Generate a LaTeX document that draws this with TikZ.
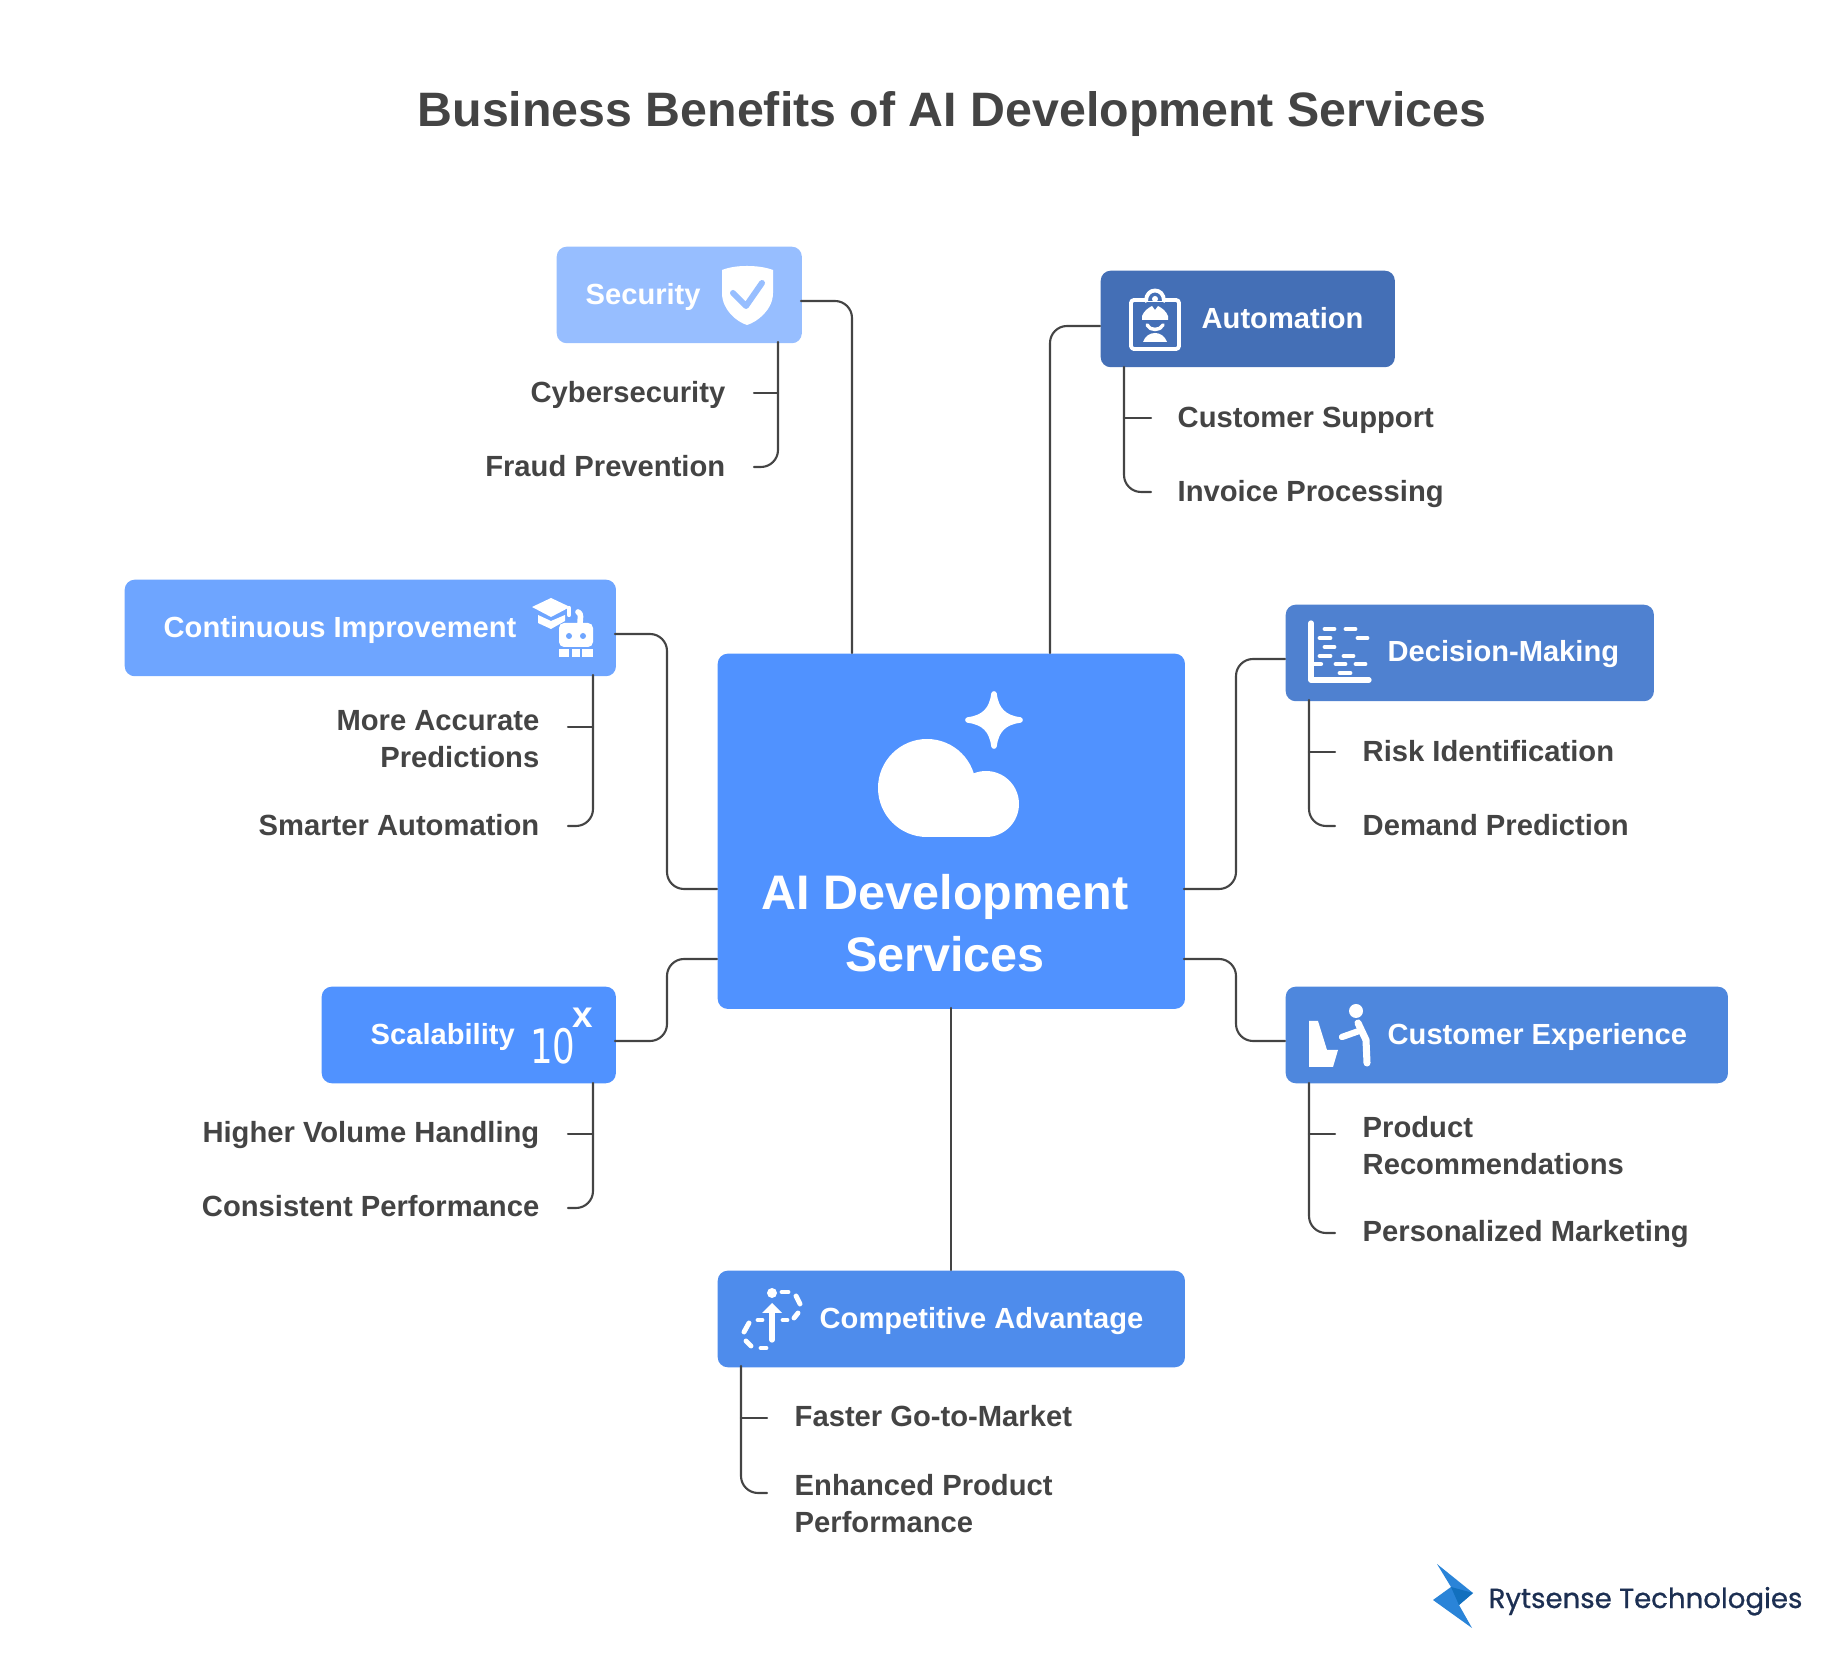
\documentclass[tikz,border=0pt]{standalone}
\usepackage{fontspec}
\usepackage{xcolor}
\setmainfont{Liberation Sans}
\newfontfamily\logofont{Poppins}[FakeBold=0.8]
\newfontfamily\digitfont{DejaVu Sans}
\definecolor{inkgray}{HTML}{444444}
\definecolor{centerblue}{HTML}{5092FF}
\definecolor{securityblue}{HTML}{97BEFF}
\definecolor{automationblue}{HTML}{446FB6}
\definecolor{improveblue}{HTML}{6EA5FF}
\definecolor{decisionblue}{HTML}{4F81D0}
\definecolor{customerblue}{HTML}{4E87DD}
\definecolor{competeblue}{HTML}{4E8CEC}
\definecolor{logoblue}{HTML}{2A84D8}
\definecolor{logodark}{HTML}{1270BE}
\definecolor{logoink}{HTML}{1C2F52}
\tikzset{
	benefitbox/.style={draw=none,rounded corners=0.1cm,minimum height=0.965cm,inner sep=0pt,anchor=north west},
	boxlabel/.style={text=white,inner sep=0pt,anchor=base west,font=\fontsize{8.28}{10.5}\selectfont\bfseries},
	itemlabel/.style={text=inkgray,inner sep=0pt,font=\fontsize{8.3}{10.5}\selectfont\bfseries},
	link/.style={draw=inkgray,line width=0.6pt,rounded corners=0.17cm},
	iconline/.style={draw=white,line width=1.2pt,line cap=round,line join=round},
}
\begin{document}
\begin{tikzpicture}[x=0.01cm,y=-0.01cm,line cap=round,line join=round]
	\useasboundingbox (0,0) rectangle (1848,1680);
	\node (title) [text=inkgray,inner sep=0pt,anchor=base,font=\fontsize{13.74}{17}\selectfont\bfseries] at (952,127) {Business Benefits of AI Development Services};

	\node (central) [benefitbox,fill=centerblue,minimum width=4.67cm,minimum height=3.55cm] at (717,653) {};
	\node (security) [benefitbox,fill=securityblue,minimum width=2.45cm] at (556,246) {};
	\node (automation) [benefitbox,fill=automationblue,minimum width=2.94cm] at (1100,270) {};
	\node (improvement) [benefitbox,fill=improveblue,minimum width=4.91cm] at (124,579) {};
	\node (decision) [benefitbox,fill=decisionblue,minimum width=3.68cm] at (1285,604) {};
	\node (scalability) [benefitbox,fill=centerblue,minimum width=2.94cm] at (321,986) {};
	\node (experience) [benefitbox,fill=customerblue,minimum width=4.42cm] at (1285,986) {};
	\node (advantage) [benefitbox,fill=competeblue,minimum width=4.67cm] at (717,1270) {};

	\node (centraltext) [text=white,inner sep=0pt,align=center,font=\fontsize{13.8}{17.6}\selectfont\bfseries] at (945,923) {AI Development\\Services};
	\node (securitytext) [boxlabel] at (585,305) {Security};
	\node (automationtext) [boxlabel] at (1201,329) {Automation};
	\node (improvementtext) [boxlabel] at (163,638) {Continuous Improvement};
	\node (decisiontext) [boxlabel] at (1387,662) {Decision-Making};
	\node (scalabilitytext) [boxlabel] at (370,1045) {Scalability};
	\node (experiencetext) [boxlabel] at (1387,1045) {Customer Experience};
	\node (advantagetext) [boxlabel] at (819,1329) {Competitive Advantage};

	\node (cyber) [itemlabel,anchor=base east] at (726,403) {Cybersecurity};
	\node (fraud) [itemlabel,anchor=base east] at (726,477) {Fraud Prevention};
	\node (support) [itemlabel,anchor=base west] at (1177,428) {Customer Support};
	\node (invoice) [itemlabel,anchor=base west] at (1177,502) {Invoice Processing};
	\node (accurate) [itemlabel,anchor=east,align=right] at (540,739) {More Accurate\\Predictions};
	\node (smarter) [itemlabel,anchor=base east] at (540,836) {Smarter Automation};
	\node (risk) [itemlabel,anchor=base west] at (1362,762) {Risk Identification};
	\node (demand) [itemlabel,anchor=base west] at (1362,836) {Demand Prediction};
	\node (volume) [itemlabel,anchor=base east] at (540,1143) {Higher Volume Handling};
	\node (consistent) [itemlabel,anchor=base east] at (540,1217) {Consistent Performance};
	\node (product) [itemlabel,anchor=west,align=left] at (1362,1146) {Product\\Recommendations};
	\node (personal) [itemlabel,anchor=base west] at (1362,1242) {Personalized Marketing};
	\node (faster) [itemlabel,anchor=base west] at (794,1427) {Faster Go-to-Market};
	\node (enhanced) [itemlabel,anchor=west,align=left] at (794,1504) {Enhanced Product\\Performance};

	\coordinate (securityout) at (801,301);
	\coordinate (securityin) at (852,653);
	\coordinate (automationout) at (1100,326);
	\coordinate (automationin) at (1050,653);
	\coordinate (improvementout) at (615,634);
	\coordinate (improvementmid) at (667,760);
	\coordinate (improvementin) at (717,889);
	\coordinate (decisionout) at (1285,659);
	\coordinate (decisionmid) at (1236,770);
	\coordinate (decisionin) at (1184,889);
	\coordinate (scalabilityout) at (615,1041);
	\coordinate (scalabilitymid) at (667,1000);
	\coordinate (scalabilityin) at (717,959);
	\coordinate (experienceout) at (1285,1041);
	\coordinate (experiencemid) at (1236,1000);
	\coordinate (experiencein) at (1184,959);
	\coordinate (centralout) at (951,1008);
	\coordinate (advantagein) at (951,1270);

	\draw [link] (securityout) -| (securityin);
	\draw [link] (automationout) -| (automationin);
	\draw [link] (improvementout) -| (improvementmid) |- (improvementin);
	\draw [link] (decisionout) -| (decisionmid) |- (decisionin);
	\draw [link] (scalabilityout) -| (scalabilitymid) |- (scalabilityin);
	\draw [link] (experienceout) -| (experiencemid) |- (experiencein);
	\draw [link] (centralout) -- (advantagein);

	\coordinate (securitydrop) at (778,342);
	\coordinate (cybertick) at (754,393);
	\coordinate (fraudtick) at (754,467);
	\draw [link] (securitydrop) |- (fraudtick);
	\draw [link] (securitydrop |- cybertick) -- (cybertick);
	\coordinate (automationdrop) at (1124,367);
	\coordinate (supporttick) at (1151,418);
	\coordinate (invoicetick) at (1151,492);
	\draw [link] (automationdrop) |- (invoicetick);
	\draw [link] (automationdrop |- supporttick) -- (supporttick);
	\coordinate (improvementdrop) at (593,675);
	\coordinate (accuratetick) at (568,727);
	\coordinate (smartertick) at (568,826);
	\draw [link] (improvementdrop) |- (smartertick);
	\draw [link] (improvementdrop |- accuratetick) -- (accuratetick);
	\coordinate (decisiondrop) at (1309,700);
	\coordinate (risktick) at (1335,752);
	\coordinate (demandtick) at (1335,826);
	\draw [link] (decisiondrop) |- (demandtick);
	\draw [link] (decisiondrop |- risktick) -- (risktick);
	\coordinate (scalabilitydrop) at (593,1083);
	\coordinate (volumetick) at (568,1134);
	\coordinate (consistenttick) at (568,1208);
	\draw [link] (scalabilitydrop) |- (consistenttick);
	\draw [link] (scalabilitydrop |- volumetick) -- (volumetick);
	\coordinate (experiencedrop) at (1309,1083);
	\coordinate (producttick) at (1335,1134);
	\coordinate (personaltick) at (1335,1233);
	\draw [link] (experiencedrop) |- (personaltick);
	\draw [link] (experiencedrop |- producttick) -- (producttick);
	\coordinate (advantagedrop) at (741,1366);
	\coordinate (fastertick) at (767,1418);
	\coordinate (enhancedtick) at (767,1493);
	\draw [link] (advantagedrop) |- (enhancedtick);
	\draw [link] (advantagedrop |- fastertick) -- (fastertick);

	\fill [white] (927,788) circle (49);
	\fill [white] (986,804) circle (33);
	\fill [white] (927,790) rectangle (986,837);
	\draw [iconline,fill=white,line width=1.6pt] (994,694) .. controls (996,710) and (1004,718) .. (1020,720) .. controls (1004,722) and (996,730) .. (994,746) .. controls (992,730) and (984,722) .. (968,720) .. controls (984,718) and (992,710) .. (994,694) -- cycle;

	\fill [white] (722,270) .. controls (730,267) and (738,266) .. (747,266) .. controls (756,266) and (765,267) .. (773,270) -- (773,293) .. controls (773,310) and (757,322) .. (747,325) .. controls (737,322) and (722,310) .. (722,293) -- cycle;
	\draw [securityblue,line width=1.7pt] (733,293) -- (746,306) -- (762,283);

	\draw [iconline,line width=1.1pt,rounded corners=0.03cm] (1131,300) rectangle (1179,349);
	\draw [iconline,line width=1.1pt,fill=automationblue] (1146,301) .. controls (1146,287) and (1164,287) .. (1164,301);
	\fill [white] (1155,299) circle (3);
	\fill [white] (1142,320) -- (1168,320) -- (1168,316) .. controls (1166,311) and (1162,308) .. (1158,306) -- (1155,310) -- (1152,306) .. controls (1148,308) and (1144,311) .. (1142,316) -- cycle;
	\draw [iconline,line width=1pt] (1147,325) .. controls (1150,331) and (1160,331) .. (1163,325);
	\fill [white] (1143,342) .. controls (1145,336) and (1150,333) .. (1155,333) .. controls (1160,333) and (1165,336) .. (1167,342) -- cycle;

	\fill [white] (532,607) -- (551,598) -- (570,607) -- (551,617) -- cycle;
	\fill [white] (538,615) -- (551,621) -- (565,615) -- (565,621) -- (551,629) -- (538,623) -- cycle;
	\draw [iconline] (569,608) -- (569,615);
	\draw [iconline,line width=1.6pt] (578,612) .. controls (582,614) and (580,618) .. (580,624);
	\fill [white,rounded corners=0.05cm] (559,623) rectangle (593,647);
	\fill [improveblue] (569,636) circle (3);
	\fill [improveblue] (583,636) circle (3);
	\fill [white] (559,649) rectangle (569,657);
	\fill [white] (572,649) rectangle (580,657);
	\fill [white] (582,649) rectangle (593,657);

	\draw [iconline,line width=1.5pt] (1311,623) -- (1311,680) -- (1369,680);
	\draw [iconline,line width=1.2pt] (1311,664) -- (1321,664);
	\foreach \xa/\xb/\ya in {1325/1334/629,1346/1355/629,1320/1330/638,1358/1367/638,1325/1334/647,1320/1330/656,1344/1353/656,1336/1345/664,1356/1365/664,1340/1350/673}
		\draw [iconline,line width=1.4pt] (\xa,\ya) -- (\xb,\ya);

	\node (tentext) [text=white,inner sep=0pt,xscale=0.75,anchor=base,font=\fontsize{13.5}{14}\selectfont\digitfont] at (553,1064) {10};
	\node (xtext) [text=white,inner sep=0pt,anchor=base,font=\fontsize{10.5}{12}\selectfont\bfseries] at (583,1028) {x};

	\fill [white] (1309,1021) -- (1318,1021) -- (1327,1050) -- (1338,1050) -- (1333,1067) -- (1309,1067) -- cycle;
	\fill [white] (1356,1011) circle (7);
	\draw [iconline,line width=2pt] (1358,1023) -- (1366,1040) -- (1367,1063);
	\draw [iconline,line width=1.8pt] (1342,1037) -- (1359,1031);

	\fill [white] (772,1293) circle (5);
	\fill [white] (772,1303) -- (782,1313) -- (762,1313) -- cycle;
	\draw [iconline,line width=1.5pt] (772,1310) -- (772,1340);
	\foreach \xa/\ya/\xb/\yb in {782/1292/788/1292,796/1296/800/1304,798/1313/794/1318,787/1320/783/1320,762/1320/758/1320,749/1323/744/1332,746/1341/751/1346,761/1348/766/1348}
		\draw [iconline,line width=1.4pt] (\xa,\ya) -- (\xb,\yb);

	\fill [logoblue] (1437,1564) -- (1473,1593) -- (1459,1605) -- (1472,1628) -- (1433,1600) -- (1451,1587) -- cycle;
	\fill [logodark] (1451,1587) -- (1473,1593) -- (1459,1605) -- cycle;
	\node (logotext) [text=logoink,inner sep=0pt,anchor=base west,font=\fontsize{7.85}{10}\selectfont\logofont] at (1488,1608) {Rytsense Technologies};
\end{tikzpicture}
\end{document}
